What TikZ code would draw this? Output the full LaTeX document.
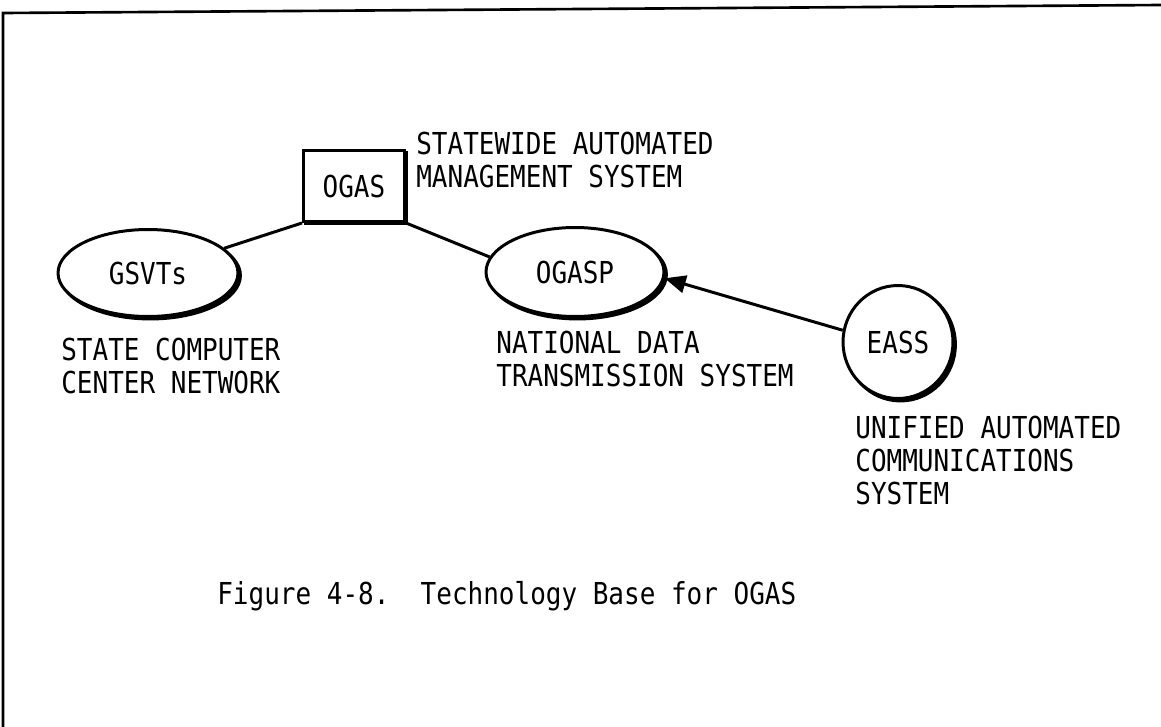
\documentclass[tikz,border=0pt]{standalone}
\usepackage{fontspec}
\newfontfamily\lgfont[FakeStretch=0.86]{DejaVu Sans Mono}
\usetikzlibrary{shapes.geometric,arrows.meta,shadows}
\tikzset{
  every node/.style={font=\lgfont\fontsize{17.2}{18.8}\selectfont},
  lbl/.style={anchor=north west, inner sep=0pt, align=left},
  shad/.style={fill=white, draw=black, line width=1.7pt, inner sep=0pt,
    drop shadow={shadow xshift=1.4pt, shadow yshift=-1.4pt, fill=black, draw=black, line width=1.7pt, opacity=1}},
  boxnode/.style={shad, rectangle, minimum width=2.02cm, minimum height=1.42cm},
  ellnode/.style={shad, ellipse},
  conn/.style={line width=1.7pt},
}
\begin{document}
\begin{tikzpicture}[x=0.02cm,y=-0.02cm]
\useasboundingbox (0,0) rectangle (1161,727);
% frame
\draw[line width=1.5pt] (3,727) -- (3,13) -- (1161,5);

% nodes
\node[boxnode] (ogas) at (354,186) {OGAS};
\node[ellnode, minimum width=3.6cm, minimum height=1.74cm] (gsvts) at (148,273) {GSVTs};
\node[ellnode, minimum width=3.56cm, minimum height=1.78cm] (ogasp) at (575,272) {OGASP};
\node[ellnode, minimum width=2.2cm, minimum height=2.26cm] (eass) at (898,342) {EASS};

% labels
\node[lbl] (l1) at (416,132) {STATEWIDE AUTOMATED\\MANAGEMENT SYSTEM};
\node[lbl] (l2) at (61,338) {STATE COMPUTER\\CENTER NETWORK};
\node[lbl] (l3) at (496,331) {NATIONAL DATA\\TRANSMISSION SYSTEM};
\node[lbl] (l4) at (855,416) {UNIFIED AUTOMATED\\COMMUNICATIONS\\SYSTEM};
\node[lbl] (cap) at (217,581) {Figure 4-8.\ \ Technology Base for OGAS};

% connectors
\draw[conn] (gsvts) -- (ogas.south west);
\draw[conn] (ogas.south east) -- (ogasp.170);
\draw[conn, -{Triangle[length=12pt, width=10pt]}] (eass.168) -- (ogasp.-4);
\end{tikzpicture}
\end{document}
